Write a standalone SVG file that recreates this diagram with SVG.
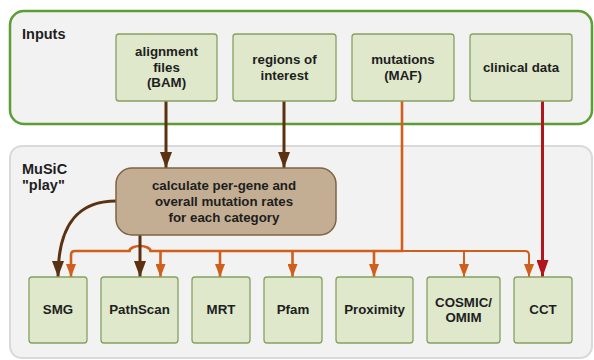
<svg xmlns="http://www.w3.org/2000/svg" width="594" height="360" viewBox="0 0 594 360">
<style>
.panel{fill:#f2f2f2}
.box{fill:#dfe8cb;stroke:#86a060;stroke-width:1.3}
.calc{fill:#c3ad93;stroke:#7d6443;stroke-width:1.5}
text{font-family:"Liberation Sans",Arial,Helvetica,sans-serif;font-weight:bold;fill:#1e1e1e}
.lbl{font-size:13.3px;text-anchor:middle}
.ttl{font-size:14.5px}
.br{fill:none;stroke:#5a3211;stroke-width:3}
.or{fill:none;stroke:#cf5f1b;stroke-width:2.6}
.or2{fill:none;stroke:#cf5f1b;stroke-width:2}
.rd{fill:none;stroke:#b0161b;stroke-width:3}
</style>
<defs>
<marker id="aBr" markerUnits="userSpaceOnUse" markerWidth="16" markerHeight="12" viewBox="0 0 16 12" refX="16" refY="6" orient="auto"><path d="M0,0 L16,6 L0,12 z" fill="#5a3211"/></marker>
<marker id="aOr" markerUnits="userSpaceOnUse" markerWidth="13" markerHeight="10" viewBox="0 0 13 10" refX="13" refY="5" orient="auto"><path d="M0,0 L13,5 L0,10 z" fill="#cf5f1b"/></marker>
<marker id="aRd" markerUnits="userSpaceOnUse" markerWidth="17" markerHeight="12" viewBox="0 0 17 12" refX="17" refY="6" orient="auto"><path d="M0,0 L17,6 L0,12 z" fill="#b0161b"/></marker>
</defs>

<g id="inputs-panel">
<rect class="panel" x="10" y="11" width="582" height="113" rx="14" stroke="#5c9d34" stroke-width="2.5"/>
<text class="ttl" x="22" y="39">Inputs</text>
</g>
<g id="music-panel">
<rect class="panel" x="10" y="146" width="582" height="212" rx="12" stroke="#d9d9d9" stroke-width="2"/>
<text class="ttl" x="22" y="174">MuSiC</text>
<text class="ttl" x="22" y="189.5">"play"</text>
</g>

<g id="connectors">
<path class="br" d="M166,101 V168" marker-end="url(#aBr)"/>
<path class="br" d="M284,101 V168" marker-end="url(#aBr)"/>
<path class="br" d="M116,201 C80,201 58,222 58,277" marker-end="url(#aBr)"/>
<path class="or" d="M402,101 V251 H150.5 A10.5,5 0 0 0 129.5,251 H75 Q71,251 71,255 V277" marker-end="url(#aOr)"/>
<path class="br" d="M140,235 V277" marker-end="url(#aBr)"/>
<path class="or" d="M160.5,251 V277" marker-end="url(#aOr)"/>
<path class="or" d="M220,251 V277" marker-end="url(#aOr)"/>
<path class="or" d="M292.5,251 V277" marker-end="url(#aOr)"/>
<path class="or" d="M374,251 V277" marker-end="url(#aOr)"/>
<path class="or2" d="M402,251 H525 Q529,251 529,255 V277" marker-end="url(#aOr)"/>
<path class="or2" d="M464,251 V277" marker-end="url(#aOr)"/>
<path class="rd" d="M542.5,101 V277" marker-end="url(#aRd)"/>
</g>

<g id="n-bam"><rect class="box" x="116" y="34" width="101" height="67" rx="3"/>
<text class="lbl" x="166.5" y="56">alignment</text><text class="lbl" x="166.5" y="71.7">files</text><text class="lbl" x="166.5" y="87.3">(BAM)</text></g>
<g id="n-roi"><rect class="box" x="233" y="34" width="103" height="67" rx="3"/>
<text class="lbl" x="284.5" y="64">regions of</text><text class="lbl" x="284.5" y="80">interest</text></g>
<g id="n-maf"><rect class="box" x="352" y="34" width="102" height="67" rx="3"/>
<text class="lbl" x="403" y="64">mutations</text><text class="lbl" x="403" y="80">(MAF)</text></g>
<g id="n-clin"><rect class="box" x="470" y="34" width="102" height="67" rx="3"/>
<text class="lbl" x="521" y="72">clinical data</text></g>

<g id="n-calc"><rect class="calc" x="116" y="168" width="220" height="67" rx="16"/>
<text class="lbl" x="224" y="190">calculate per-gene and</text>
<text class="lbl" x="224" y="206">overall mutation rates</text>
<text class="lbl" x="224" y="221.5">for each category</text></g>

<g id="n-smg"><rect class="box" x="29" y="277" width="58" height="66" rx="3"/><text class="lbl" x="58" y="314">SMG</text></g>
<g id="n-pathscan"><rect class="box" x="101" y="277" width="77" height="66" rx="3"/><text class="lbl" x="139.5" y="314">PathScan</text></g>
<g id="n-mrt"><rect class="box" x="192" y="277" width="58" height="66" rx="3"/><text class="lbl" x="221" y="314">MRT</text></g>
<g id="n-pfam"><rect class="box" x="264" y="277" width="58" height="66" rx="3"/><text class="lbl" x="293" y="314">Pfam</text></g>
<g id="n-proximity"><rect class="box" x="336" y="277" width="77" height="66" rx="3"/><text class="lbl" x="374.5" y="314">Proximity</text></g>
<g id="n-cosmic"><rect class="box" x="427" y="277" width="73" height="66" rx="3"/><text class="lbl" x="463.5" y="306.7">COSMIC/</text><text class="lbl" x="463.5" y="321.7">OMIM</text></g>
<g id="n-cct"><rect class="box" x="514" y="277" width="58" height="66" rx="3"/><text class="lbl" x="543" y="314">CCT</text></g>
</svg>
